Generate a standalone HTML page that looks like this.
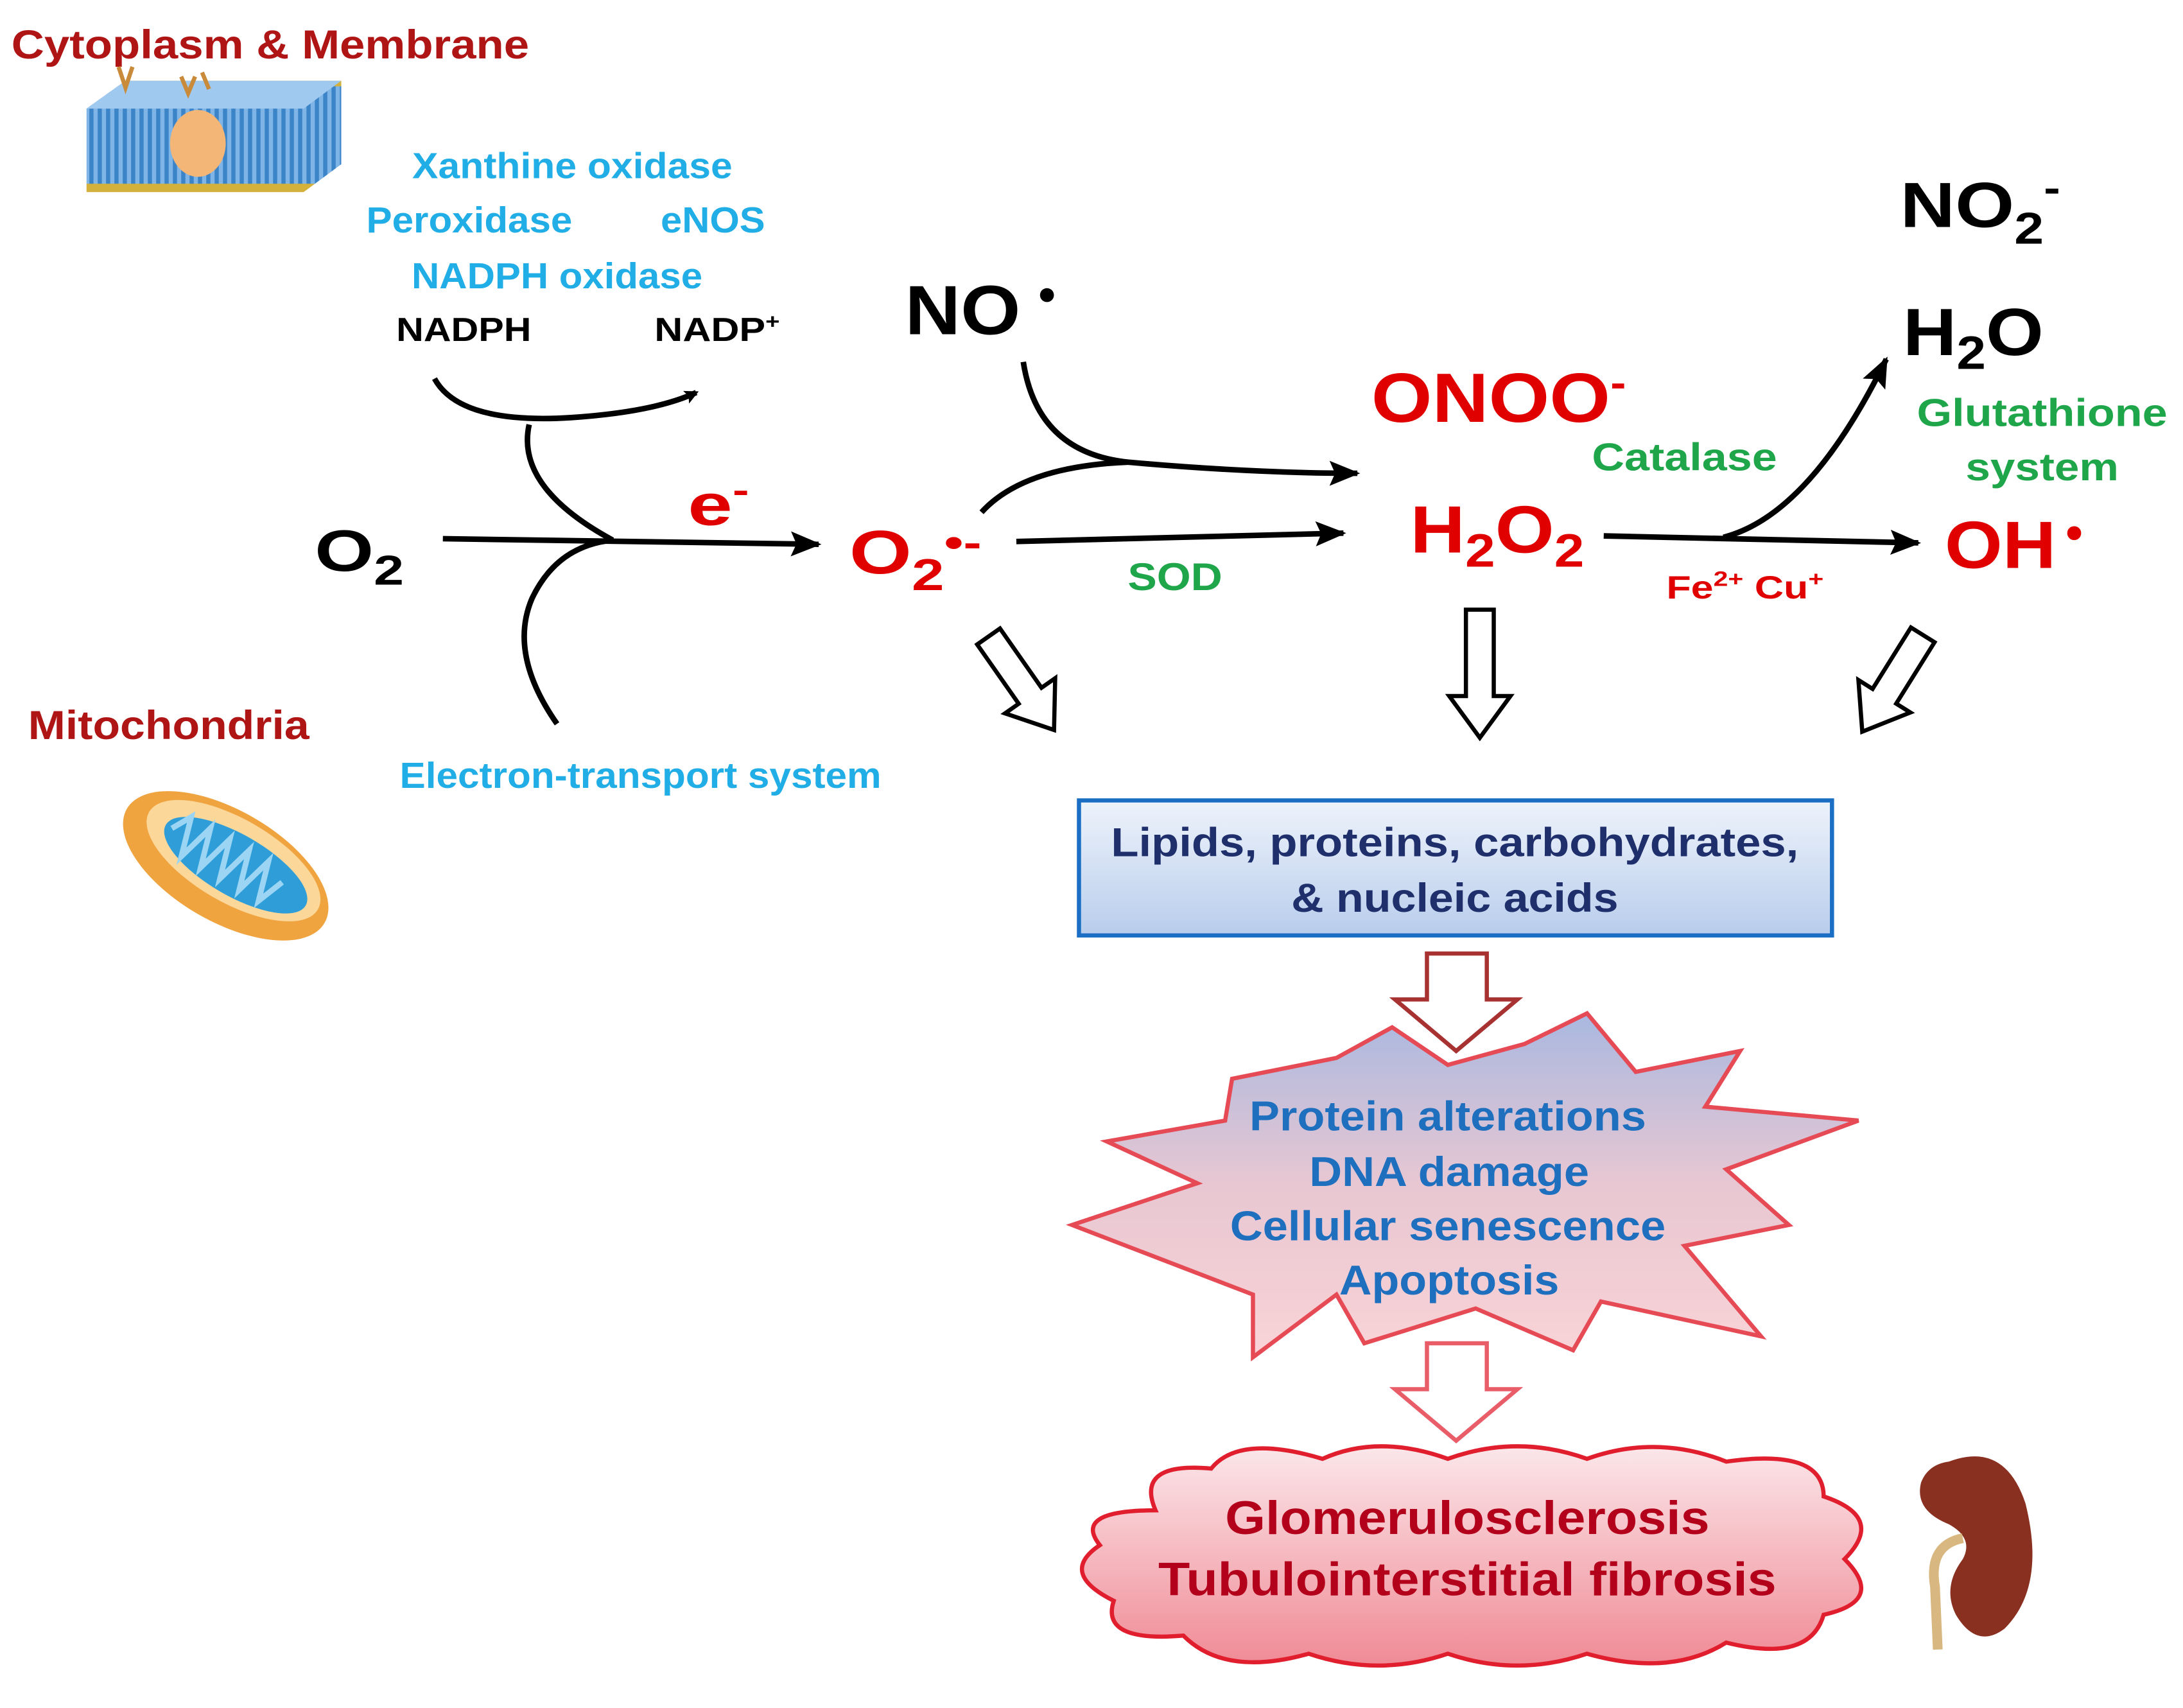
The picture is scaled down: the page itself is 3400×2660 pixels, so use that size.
<!DOCTYPE html>
<html><head><meta charset="utf-8"><style>
html,body{margin:0;padding:0;background:#fff;}
svg{display:block;}
text{font-family:"Liberation Sans",Arial,sans-serif;font-weight:bold;}
</style></head><body>
<svg width="3400" height="2660" viewBox="0 0 1568 1227" xmlns="http://www.w3.org/2000/svg">
<defs>
<marker id="ah" markerWidth="10" markerHeight="10" refX="8" refY="5" orient="auto" markerUnits="userSpaceOnUse" viewBox="0 0 10 10">
<path d="M0,0 L10,5 L0,10 L2,5 Z" fill="#000"/></marker>
<marker id="ah2" markerWidth="22" markerHeight="18" refX="20" refY="9" orient="auto" markerUnits="userSpaceOnUse" viewBox="0 0 22 18">
<path d="M0,0 L22,9 L0,18 L4,9 Z" fill="#000"/></marker>
<linearGradient id="bx" x1="0" y1="0" x2="0" y2="1"><stop offset="0" stop-color="#eef3fb"/><stop offset="1" stop-color="#b8cdec"/></linearGradient>
<linearGradient id="st" x1="0" y1="0" x2="0" y2="1"><stop offset="0" stop-color="#a9b8e0"/><stop offset="0.5" stop-color="#e8c7d2"/><stop offset="1" stop-color="#f9d3d6"/></linearGradient>
<linearGradient id="cl" x1="0" y1="0" x2="0" y2="1"><stop offset="0" stop-color="#fbe7ea"/><stop offset="1" stop-color="#f08a95"/></linearGradient>
<pattern id="mem" width="6" height="80" patternUnits="userSpaceOnUse"><rect width="6" height="80" fill="#3c84c8"/><rect x="1" width="3" height="80" fill="#7fb5e6"/><rect y="52" width="6" height="10" fill="#d4b13a"/></pattern>
</defs>

<text x="8" y="42" font-size="29" fill="#b01515" textLength="372" lengthAdjust="spacingAndGlyphs">Cytoplasm &amp; Membrane</text>
<text x="20" y="531" font-size="29" fill="#b01515" textLength="202" lengthAdjust="spacingAndGlyphs">Mitochondria</text>

<g>
<polygon points="62,78 90,58 245,58 245,118 218,138 62,138" fill="url(#mem)"/>
<polygon points="62,78 90,58 245,58 218,78" fill="#9fc9ef"/>
<ellipse cx="142" cy="103" rx="20" ry="24" fill="#f3b676"/>
<path d="M85,48 l5,15 l5,-15 M130,55 l5,12 l5,-12 M145,52 l5,12" stroke="#c98a3a" stroke-width="3" fill="none"/>
</g>

<g transform="rotate(30 162 622)">
<ellipse cx="162" cy="622" rx="82" ry="40" fill="#f0a440"/>
<ellipse cx="165" cy="616" rx="70" ry="30" fill="#fbd79a"/>
<ellipse cx="168" cy="618" rx="58" ry="22" fill="#2f9ed8"/>
<path d="M115,618 l8,-14 l8,28 l8,-28 l8,28 l8,-28 l8,28 l8,-28 l8,28 l8,-28 l8,28 l8,-20" stroke="#9bd5f3" stroke-width="4" fill="none"/>
</g>

<g font-size="26" fill="#21aee6" text-anchor="middle">
<text x="411" y="128" textLength="230" lengthAdjust="spacingAndGlyphs">Xanthine oxidase</text>
<text x="337" y="167" textLength="148" lengthAdjust="spacingAndGlyphs">Peroxidase</text>
<text x="512" y="167" textLength="75" lengthAdjust="spacingAndGlyphs">eNOS</text>
<text x="400" y="207" textLength="209" lengthAdjust="spacingAndGlyphs">NADPH oxidase</text>
<text x="460" y="566" textLength="346" lengthAdjust="spacingAndGlyphs">Electron-transport system</text>
</g>
<text x="333" y="245" font-size="24" fill="#000" text-anchor="middle" textLength="97" lengthAdjust="spacingAndGlyphs">NADPH</text>
<text x="515" y="245" font-size="24" fill="#000" text-anchor="middle" textLength="90" lengthAdjust="spacingAndGlyphs">NADP<tspan font-size="15" dy="-9">+</tspan></text>

<g stroke="#000" stroke-width="4" fill="none">
<path d="M312,272 Q330,305 410,300 Q470,296 500,282" marker-end="url(#ah)"/>
<path d="M380,305 Q370,350 440,388"/>
<path d="M400,520 Q365,470 382,430 Q400,392 440,388"/>
<path d="M318,387 L588,391" marker-end="url(#ah2)"/>
</g>
<text x="226" y="410" font-size="42" fill="#000" textLength="64" lengthAdjust="spacingAndGlyphs">O<tspan font-size="30" dy="10">2</tspan></text>
<text x="494" y="377" font-size="42" fill="#e00000" textLength="44" lengthAdjust="spacingAndGlyphs">e<tspan font-size="26" dy="-16">-</tspan></text>
<text x="610" y="412" font-size="44" fill="#e00000" textLength="95" lengthAdjust="spacingAndGlyphs">O<tspan font-size="32" dy="12">2</tspan><tspan font-size="30" dy="-24">•-</tspan></text>

<text x="650" y="240" font-size="50" fill="#000" textLength="83" lengthAdjust="spacingAndGlyphs">NO</text>
<circle cx="752" cy="212" r="5" fill="#000"/>
<g stroke="#000" stroke-width="4" fill="none">
<path d="M735,260 Q745,325 810,332 Q900,340 975,340" marker-end="url(#ah2)"/>
<path d="M705,368 Q735,335 810,332"/>
<path d="M730,389 L965,383" marker-end="url(#ah2)"/>
</g>
<text x="844" y="424" font-size="28" fill="#1fa64a" text-anchor="middle" textLength="68" lengthAdjust="spacingAndGlyphs">SOD</text>

<text x="985" y="303" font-size="50" fill="#e00000" textLength="183" lengthAdjust="spacingAndGlyphs">ONOO<tspan font-size="30" dy="-18">-</tspan></text>
<text x="1013" y="397" font-size="48" fill="#e00000" textLength="125" lengthAdjust="spacingAndGlyphs">H<tspan font-size="34" dy="10">2</tspan><tspan dy="-10">O</tspan><tspan font-size="34" dy="10">2</tspan></text>

<g stroke="#000" stroke-width="4" fill="none">
<path d="M1152,385 L1378,390" marker-end="url(#ah2)"/>
<path d="M1238,386 Q1300,370 1355,258" marker-end="url(#ah2)"/>
</g>
<text x="1210" y="338" font-size="28" fill="#1fa64a" text-anchor="middle" textLength="133" lengthAdjust="spacingAndGlyphs">Catalase</text>
<text x="1197" y="430" font-size="23" fill="#e00000" textLength="113" lengthAdjust="spacingAndGlyphs">Fe<tspan font-size="15" dy="-9">2+</tspan><tspan dy="9"> Cu</tspan><tspan font-size="15" dy="-9">+</tspan></text>

<text x="1365" y="163" font-size="46" fill="#000" textLength="115" lengthAdjust="spacingAndGlyphs">NO<tspan font-size="32" dy="12">2</tspan><tspan font-size="30" dy="-30">-</tspan></text>
<text x="1367" y="255" font-size="48" fill="#000" textLength="101" lengthAdjust="spacingAndGlyphs">H<tspan font-size="34" dy="10">2</tspan><tspan dy="-10">O</tspan></text>
<text x="1467" y="306" font-size="28" fill="#1fa64a" text-anchor="middle" textLength="180" lengthAdjust="spacingAndGlyphs">Glutathione</text>
<text x="1467" y="345" font-size="28" fill="#1fa64a" text-anchor="middle" textLength="110" lengthAdjust="spacingAndGlyphs">system</text>
<text x="1397" y="408" font-size="48" fill="#e00000" textLength="80" lengthAdjust="spacingAndGlyphs">OH</text>
<circle cx="1490" cy="383" r="5" fill="#e00000"/>

<g fill="#fff" stroke="#000" stroke-width="3">
<path d="M1053,438 L1073,438 L1073,500 L1085,500 L1063,530 L1041,500 L1053,500 Z"/>
<g transform="rotate(-35 733 490)"><path d="M723,450 L743,450 L743,502 L755,502 L733,532 L711,502 L723,502 Z"/></g>
<g transform="rotate(32 1360 490)"><path d="M1350,450 L1370,450 L1370,502 L1382,502 L1360,532 L1338,502 L1350,502 Z"/></g>
</g>

<rect x="775" y="575" width="541" height="97" fill="url(#bx)" stroke="#1a6fc4" stroke-width="3"/>
<text x="1045" y="615" font-size="29" fill="#1f2f6b" text-anchor="middle" textLength="494" lengthAdjust="spacingAndGlyphs">Lipids, proteins, carbohydrates,</text>
<text x="1045" y="655" font-size="29" fill="#1f2f6b" text-anchor="middle" textLength="235" lengthAdjust="spacingAndGlyphs">&amp; nucleic acids</text>

<path d="M1025,685 L1068,685 L1068,718 L1090,718 L1046,755 L1002,718 L1025,718 Z" fill="#fff" stroke="#a83232" stroke-width="3"/>

<path d="M885,775 L960,760 L1000,738 L1040,765 L1095,750 L1140,728 L1175,770 L1250,755 L1225,795 L1335,805 L1240,840 L1285,880 L1210,895 L1265,960 L1150,935 L1130,970 L1060,940 L980,965 L960,930 L900,975 L900,930 L770,880 L860,850 L795,820 L880,805 Z" fill="url(#st)" stroke="#e64a55" stroke-width="3"/>
<g font-size="30" fill="#1f6fbf" text-anchor="middle">
<text x="1040" y="812" textLength="285" lengthAdjust="spacingAndGlyphs">Protein alterations</text>
<text x="1041" y="852" textLength="201" lengthAdjust="spacingAndGlyphs">DNA damage</text>
<text x="1040" y="891" textLength="313" lengthAdjust="spacingAndGlyphs">Cellular senescence</text>
<text x="1041" y="930" textLength="158" lengthAdjust="spacingAndGlyphs">Apoptosis</text>
</g>

<path d="M1025,965 L1068,965 L1068,998 L1090,998 L1046,1035 L1002,998 L1025,998 Z" fill="#fff" stroke="#e85d68" stroke-width="3"/>

<path d="M830,1085 Q815,1050 870,1055 Q890,1030 950,1048 Q990,1030 1040,1048 Q1090,1030 1140,1048 Q1190,1030 1240,1050 Q1310,1040 1310,1075 Q1355,1090 1325,1120 Q1355,1150 1310,1160 Q1300,1195 1240,1180 Q1200,1205 1140,1188 Q1090,1205 1040,1188 Q990,1205 940,1188 Q880,1205 850,1175 Q790,1180 800,1150 Q760,1130 790,1110 Q770,1085 830,1085 Z" fill="url(#cl)" stroke="#e01e2d" stroke-width="3"/>
<g font-size="34" fill="#b3001b" text-anchor="middle">
<text x="1054" y="1102" textLength="348" lengthAdjust="spacingAndGlyphs">Glomerulosclerosis</text>
<text x="1054" y="1146" textLength="444" lengthAdjust="spacingAndGlyphs">Tubulointerstitial fibrosis</text>
</g>

<path d="M1400,1050 Q1440,1035 1455,1080 Q1470,1140 1440,1170 Q1420,1185 1405,1160 Q1395,1140 1410,1120 Q1418,1105 1400,1095 Q1375,1085 1380,1065 Q1385,1052 1400,1050 Z" fill="#8a3020"/>
<path d="M1410,1105 Q1385,1110 1390,1140 L1392,1185" stroke="#d8b880" stroke-width="7" fill="none"/>
</svg>
</body></html>
